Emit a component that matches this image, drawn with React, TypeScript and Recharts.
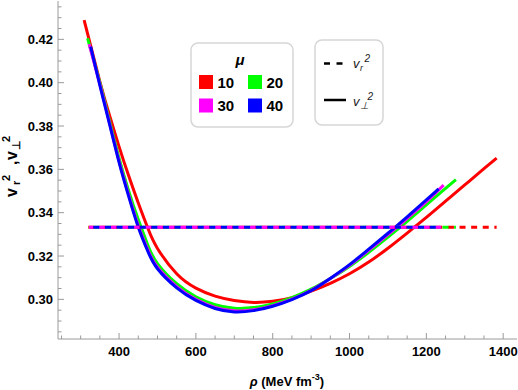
import { LineChart, Line, XAxis, YAxis } from "recharts";

// mu = 10
const rho10 = [309, 350, 375, 400, 425, 450, 475, 500, 550, 600, 650, 700, 750, 800, 850, 900, 950, 1000, 1050, 1100, 1150, 1200, 1250, 1300, 1350, 1383];
const v10 = [0.4289, 0.4005, 0.385, 0.3705, 0.357, 0.3445, 0.3328, 0.3235, 0.3118, 0.3052, 0.3015, 0.2995, 0.2986, 0.2991, 0.3008, 0.3038, 0.3074, 0.3118, 0.3172, 0.3236, 0.3306, 0.3378, 0.3453, 0.3528, 0.3603, 0.3652];
// mu = 20
const rho20 = [318, 350, 375, 400, 425, 450, 475, 500, 550, 600, 650, 700, 750, 800, 850, 900, 950, 1000, 1050, 1100, 1150, 1200, 1250, 1277];
const v20 = [0.4205, 0.4, 0.3825, 0.3652, 0.35, 0.3368, 0.325, 0.3165, 0.3072, 0.3012, 0.2975, 0.2959, 0.2962, 0.2979, 0.3008, 0.3047, 0.3096, 0.3152, 0.3217, 0.3287, 0.336, 0.3436, 0.3512, 0.3553];
// mu = 30
const rho30 = [322, 350, 375, 400, 425, 450, 475, 500, 550, 600, 650, 700, 750, 800, 850, 900, 950, 1000, 1050, 1100, 1150, 1200, 1245];
const v30 = [0.4178, 0.3992, 0.3815, 0.3638, 0.3482, 0.3341, 0.3228, 0.3148, 0.3059, 0.3, 0.2963, 0.2947, 0.2952, 0.2971, 0.3001, 0.3042, 0.3096, 0.3157, 0.3227, 0.3299, 0.3374, 0.3451, 0.3527];
// mu = 40
const rho40 = [326, 350, 375, 400, 425, 450, 475, 500, 550, 600, 650, 700, 750, 800, 850, 900, 950, 1000, 1050, 1100, 1150, 1200, 1232];
const v40 = [0.4166, 0.3987, 0.381, 0.3632, 0.3475, 0.3333, 0.3221, 0.3141, 0.3053, 0.2995, 0.2958, 0.2942, 0.2948, 0.2968, 0.2999, 0.304, 0.3097, 0.316, 0.3232, 0.3305, 0.3381, 0.3459, 0.351];

// v_r^2 (dashed) stays at 1/3 over each density range
const vr2 = 0.3333;
const dashFrom = [320, 321, 322, 323];
const dashTo = [1383, 1277, 1245, 1232];

const muLabels = ["10", "20", "30", "40"];
const colors = ["#ff0000", "#00ff00", "#ff00ff", "#0000ff"];
const dashOffsets = [0, 5.8, 2, 7.8];

const xTicks = [250, 300, 350, 400, 450, 500, 550, 600, 650, 700, 750, 800, 850, 900, 950, 1000, 1050, 1100, 1150, 1200, 1250, 1300, 1350, 1400];
const xMajor = [400, 600, 800, 1000, 1200, 1400];
const yTicks = [0.285, 0.29, 0.295, 0.3, 0.305, 0.31, 0.315, 0.32, 0.325, 0.33, 0.335, 0.34, 0.345, 0.35, 0.355, 0.36, 0.365, 0.37, 0.375, 0.38, 0.385, 0.39, 0.395, 0.4, 0.405, 0.41, 0.415, 0.42, 0.425, 0.43, 0.435];
const yMajor = [0.3, 0.32, 0.34, 0.36, 0.38, 0.4, 0.42];

const rhoSets = [rho10, rho20, rho30, rho40];
const vSets = [v10, v20, v30, v40];
const solidSeries = rhoSets.map((rs, i) => rs.map((r, j) => ({ rho: r, v: vSets[i][j] })));
const dashedSeries = dashFrom.map((a, i) => [
  { rho: a, v: vr2 },
  { rho: dashTo[i], v: vr2 },
]);

const FONT = "'Liberation Sans', Arial, sans-serif";
const FRAME = "#9a9a9a";
const isMajor = (list: number[], v: number) => list.some((m) => Math.abs(m - v) < 1e-6);

const BottomTick = ({ x, y, payload }: any) => {
  const major = isMajor(xMajor, payload.value);
  return (
    <g>
      <line x1={x} x2={x} y1={y} y2={y - (major ? 6 : 3.5)} stroke={FRAME} />
      {major && (
        <text x={x} y={y + 17} textAnchor="middle" fontFamily={FONT} fontWeight="bold" fontSize={13} fill="#000">
          {payload.value}
        </text>
      )}
    </g>
  );
};

const TopTick = ({ x, y, payload }: any) => {
  const major = isMajor(xMajor, payload.value);
  return <line x1={x} x2={x} y1={y} y2={y + (major ? 6 : 3.5)} stroke={FRAME} />;
};

const LeftTick = ({ x, y, payload }: any) => {
  const major = isMajor(yMajor, payload.value);
  return (
    <g>
      <line x1={x} x2={x + (major ? 6 : 3.5)} y1={y} y2={y} stroke={FRAME} />
      {major && (
        <text x={x - 5} y={y + 4.5} textAnchor="end" fontFamily={FONT} fontWeight="bold" fontSize={13} fill="#000">
          {payload.value.toFixed(2)}
        </text>
      )}
    </g>
  );
};

const RightTick = ({ x, y, payload }: any) => {
  const major = isMajor(yMajor, payload.value);
  return <line x1={x} x2={x - (major ? 6 : 3.5)} y1={y} y2={y} stroke={FRAME} />;
};

const Overlay = () => (
  <svg width={518} height={390} style={{ position: "absolute", left: 0, top: 0, pointerEvents: "none" }}>
    {/* y axis title */}
    <text transform="rotate(-90)" fontFamily={FONT} fontWeight="bold" fill="#000">
      <tspan x={-197} y={16.7} fontSize={16}>v</tspan>
      <tspan x={-185} y={19.5} fontSize={11}>r</tspan>
      <tspan x={-181} y={10} fontSize={11}>2</tspan>
      <tspan x={-165} y={16.7} fontSize={16}>,</tspan>
      <tspan x={-160} y={16.7} fontSize={16}>v</tspan>
      <tspan x={-150} y={19.5} fontSize={11}>⊥</tspan>
      <tspan x={-142} y={10} fontSize={11}>2</tspan>
    </text>
    {/* x axis title */}
    <text x={287} y={386} textAnchor="middle" fontFamily={FONT} fontWeight="bold" fontSize={13} fill="#000">
      <tspan fontStyle="italic">ρ</tspan>
      <tspan> (MeV fm</tspan>
      <tspan dy={-6} fontSize={9}>-3</tspan>
      <tspan dy={6}>)</tspan>
    </text>

    {/* mu legend */}
    <rect x={191} y={43} width={102} height={84} rx={7} fill="#fff" stroke="#d6d6d6" strokeWidth={1.5} />
    <text x={240} y={65} textAnchor="middle" fontFamily={FONT} fontWeight="bold" fontStyle="italic" fontSize={15} fill="#000">
      μ
    </text>
    {muLabels.map((m, i) => {
      const cx = i % 2 === 0 ? 199 : 248;
      const cy = i < 2 ? 75 : 98.5;
      return (
        <g key={m}>
          <rect x={cx} y={cy} width={14} height={14} fill={colors[i]} />
          <text x={cx + 18.5} y={cy + 12.5} fontFamily={FONT} fontWeight="bold" fontSize={15} fill="#000">
            {m}
          </text>
        </g>
      );
    })}

    {/* line style legend */}
    <rect x={315} y={40} width={68} height={85} rx={7} fill="#fff" stroke="#d6d6d6" strokeWidth={1.5} />
    <line x1={324} x2={343} y1={63.5} y2={63.5} stroke="#000" strokeWidth={2.5} strokeDasharray="6 6.5" />
    <line x1={324} x2={346} y1={100} y2={100} stroke="#000" strokeWidth={2.5} />
    <text fontFamily={FONT} fontStyle="italic" fill="#222">
      <tspan x={353} y={68} fontSize={13}>v</tspan>
      <tspan x={360} y={71} fontSize={9}>r</tspan>
      <tspan x={364.5} y={62} fontSize={10}>2</tspan>
    </text>
    <text fontFamily={FONT} fontStyle="italic" fill="#222">
      <tspan x={353} y={106} fontSize={13}>v</tspan>
      <tspan x={360} y={109} fontSize={10}>⊥</tspan>
      <tspan x={367.5} y={100} fontSize={10}>2</tspan>
    </text>
  </svg>
);

export default function App() {
  return (
    <div style={{ position: "absolute", left: 0, top: 0, width: 518, height: 390, background: "#fff" }}>
      <LineChart width={518} height={390} margin={{ top: 1, right: 1, bottom: 0, left: 0 }}>
        <XAxis
          dataKey="rho"
          type="number"
          domain={[241, 1436]}
          allowDataOverflow
          ticks={xTicks}
          interval={0}
          height={51}
          tickSize={0}
          tickMargin={0}
          tickLine={false}
          axisLine={{ stroke: FRAME }}
          tick={<BottomTick />}
        />
        <XAxis
          xAxisId="top"
          orientation="top"
          dataKey="rho"
          type="number"
          domain={[241, 1436]}
          allowDataOverflow
          ticks={xTicks}
          interval={0}
          height={0}
          tickSize={0}
          tickMargin={0}
          tickLine={false}
          axisLine={{ stroke: FRAME }}
          tick={<TopTick />}
        />
        <YAxis
          type="number"
          domain={[0.2817, 0.4377]}
          allowDataOverflow
          ticks={yTicks}
          interval={0}
          width={58}
          tickSize={0}
          tickMargin={0}
          tickLine={false}
          axisLine={{ stroke: FRAME }}
          tick={<LeftTick />}
        />
        <YAxis
          yAxisId="right"
          orientation="right"
          type="number"
          domain={[0.2817, 0.4377]}
          allowDataOverflow
          ticks={yTicks}
          interval={0}
          width={0}
          tickSize={0}
          tickMargin={0}
          tickLine={false}
          axisLine={{ stroke: FRAME }}
          tick={<RightTick />}
        />
        {solidSeries.map((data, i) => (
          <Line
            key={"s" + i}
            data={data}
            dataKey="v"
            type="natural"
            stroke={colors[i]}
            strokeWidth={3}
            dot={false}
            isAnimationActive={false}
          />
        ))}
        {dashedSeries.map((data, i) => (
          <Line
            key={"d" + i}
            data={data}
            dataKey="v"
            type="linear"
            stroke={colors[i]}
            strokeWidth={3}
            strokeDasharray="6 5.6"
            strokeDashoffset={dashOffsets[i]}
            dot={false}
            isAnimationActive={false}
          />
        ))}
      </LineChart>
      <Overlay />
    </div>
  );
}
